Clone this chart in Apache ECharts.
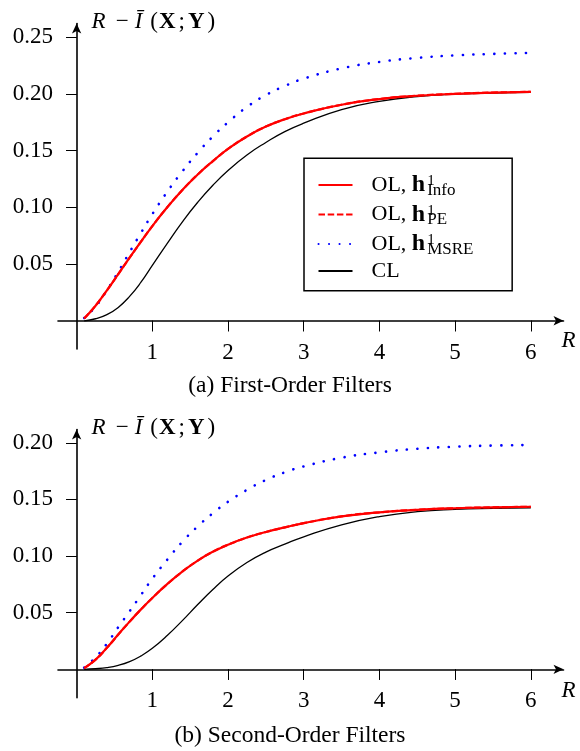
<!DOCTYPE html>
<html><head><meta charset="utf-8">
<script src="https://cdn.jsdelivr.net/npm/echarts@6/dist/echarts.min.js"></script>
<style>html,body{margin:0;padding:0;background:#fff}#c{width:580px;height:751px}</style>
</head><body><div id="c"></div>
<script>
// ---- data ----
const rValues = [0.1, 0.25, 0.4, 0.55, 0.7, 0.85, 1.0, 1.2, 1.4, 1.6, 1.8, 2.0, 2.25, 2.5, 2.75, 3.0, 3.5, 4.0, 4.5, 5.0, 5.5, 6.0];

// (a) First-Order Filters
const firstInfo = [0.002, 0.0133, 0.0268, 0.0412, 0.0556, 0.0697, 0.0835, 0.1003, 0.1155, 0.129, 0.1408, 0.1515, 0.1625, 0.1712, 0.1777, 0.1828, 0.1905, 0.1955, 0.1984, 0.2001, 0.2012, 0.2019];
const firstPE   = [0.002, 0.0133, 0.0268, 0.0412, 0.0556, 0.0697, 0.0835, 0.1003, 0.1155, 0.129, 0.1408, 0.1515, 0.1625, 0.1712, 0.1777, 0.1828, 0.1905, 0.1955, 0.1984, 0.2001, 0.2012, 0.2019];
const firstMSRE = [0.0025, 0.0125, 0.027, 0.0432, 0.0605, 0.0775, 0.094, 0.114, 0.132, 0.1482, 0.1625, 0.175, 0.1885, 0.199, 0.207, 0.2135, 0.2225, 0.2282, 0.2318, 0.234, 0.2353, 0.2362];
const firstCL   = [0.0, 0.0018, 0.0055, 0.0118, 0.0215, 0.034, 0.0488, 0.0685, 0.0875, 0.1045, 0.1195, 0.1325, 0.1462, 0.1572, 0.1668, 0.1742, 0.1862, 0.1935, 0.1977, 0.1998, 0.2008, 0.2013];

// (b) Second-Order Filters
const secondInfo = [0.001, 0.0085, 0.019, 0.0307, 0.0421, 0.0529, 0.063, 0.0754, 0.0864, 0.096, 0.1038, 0.11, 0.1163, 0.1212, 0.1253, 0.129, 0.135, 0.1386, 0.1408, 0.1422, 0.143, 0.1435];
const secondPE   = [0.001, 0.0085, 0.019, 0.0307, 0.0421, 0.0529, 0.063, 0.0754, 0.0864, 0.096, 0.1038, 0.11, 0.1163, 0.1212, 0.1253, 0.129, 0.135, 0.1386, 0.1408, 0.1422, 0.143, 0.1435];
const secondMSRE = [0.0015, 0.0105, 0.0227, 0.0372, 0.0512, 0.0656, 0.08, 0.097, 0.1128, 0.1262, 0.1378, 0.1479, 0.1584, 0.1671, 0.1739, 0.1791, 0.1868, 0.1915, 0.1947, 0.1965, 0.1975, 0.198];
const secondCL   = [0.0, 0.0005, 0.0015, 0.0035, 0.0068, 0.0118, 0.0185, 0.03, 0.0432, 0.0572, 0.0705, 0.0823, 0.0943, 0.1035, 0.1105, 0.117, 0.1275, 0.1348, 0.1392, 0.1412, 0.1421, 0.1426];

const xTickValues = [1, 2, 3, 4, 5, 6];
const yTickValuesFirst = [0.05, 0.10, 0.15, 0.20, 0.25];
const yTickValuesSecond = [0.05, 0.10, 0.15, 0.20];
const seriesNames = ['OL, h1 Info', 'OL, h1 PE', 'OL, h1 MSRE', 'CL'];
const legendLabels = {
  'OL, h1 Info': '{t|OL, }{h|h}{sup|1}{sub|Info}',
  'OL, h1 PE': '{t|OL, }{h|h}{sup|1}{sub|PE}',
  'OL, h1 MSRE': '{t|OL, }{h|h}{sup|1}{sub|MSRE}',
  'CL': '{t|CL}'
};
const captions = ['(a) First-Order Filters', '(b) Second-Order Filters'];
const yAxisTitle = '{i|R}{m|−}{i2|Ī}{p|(}{b|X}{s|;}{b|Y}{q|)}';
const xAxisTitle = 'R';

// ---- chart ----
const FONT = '"Liberation Serif", "DejaVu Serif", serif';
const pairs = (arr) => rValues.map((r, i) => [r, arr[i]]);

const grids = [
  { left: 58, top: 23.5, width: 505.5, height: 325.5, outerBoundsMode: 'none' },
  { left: 58, top: 429.5, width: 505.5, height: 268.2, outerBoundsMode: 'none' }
];
const yRanges = [[-0.02487, 0.2621], [-0.02507, 0.2117]];
const yTicks = [yTickValuesFirst, yTickValuesSecond];

const xAxes = [], yAxes = [];
[0, 1].forEach(g => {
  const base = { type: 'value', gridIndex: g, min: -0.246, max: 6.432, splitLine: { show: false } };
  xAxes.push(Object.assign({}, base, {
    axisLine: { show: true, onZero: true, onZeroAxisIndex: g * 2, symbol: ['none', 'arrow'], symbolSize: [7, 10],
      lineStyle: { color: '#000', width: 1.6 } },
    axisTick: { show: true, customValues: xTickValues, length: 10.5, lineStyle: { color: '#000', width: 1 } },
    axisLabel: { show: true, customValues: xTickValues, margin: -8, fontFamily: FONT, fontSize: 23, color: '#000',
      formatter: v => String(v) }
  }));
  xAxes.push(Object.assign({}, base, {
    axisLine: { show: false, onZero: true, onZeroAxisIndex: g * 2 },
    axisTick: { show: true, inside: true, customValues: xTickValues, length: 10.5, lineStyle: { color: '#000', width: 1 } },
    axisLabel: { show: false }
  }));
  const ybase = { type: 'value', gridIndex: g, min: yRanges[g][0], max: yRanges[g][1], splitLine: { show: false } };
  yAxes.push(Object.assign({}, ybase, {
    axisLine: { show: true, onZero: true, onZeroAxisIndex: g * 2, symbol: ['none', 'arrow'], symbolSize: [7, 10],
      lineStyle: { color: '#000', width: 1.6 } },
    axisTick: { show: true, customValues: yTicks[g], length: 10.5, lineStyle: { color: '#000', width: 1 } },
    axisLabel: { show: true, customValues: yTicks[g], margin: 5, fontFamily: FONT, fontSize: 23, color: '#000',
      formatter: v => v.toFixed(2) },
    name: yAxisTitle, nameLocation: 'end', nameGap: 1.5,
    nameTextStyle: { align: 'left', verticalAlign: 'middle', padding: [0, 0, 0, 15],
      rich: {
        i: { fontFamily: FONT, fontStyle: 'italic', fontSize: 23, color: '#000', padding: [0, 10, 0, 0] },
        i2: { fontFamily: FONT, fontStyle: 'italic', fontSize: 23, color: '#000', padding: [0, 8, 0, 0] },
        m: { fontFamily: FONT, fontSize: 23, color: '#000', padding: [0, 6, 0, 0] },
        p: { fontFamily: FONT, fontSize: 23, color: '#000', padding: [0, 1, 0, 0] },
        s: { fontFamily: FONT, fontSize: 23, color: '#000', padding: [0, 3, 0, 3] },
        q: { fontFamily: FONT, fontSize: 23, color: '#000', padding: [0, 0, 0, 3] },
        b: { fontFamily: FONT, fontWeight: 'bold', fontSize: 23, color: '#000' }
      } }
  }));
  yAxes.push(Object.assign({}, ybase, {
    axisLine: { show: false, onZero: true, onZeroAxisIndex: g * 2 },
    axisTick: { show: true, inside: true, customValues: yTicks[g], length: 10.5, lineStyle: { color: '#000', width: 1 } },
    axisLabel: { show: false }
  }));
});

const styles = {
  'OL, h1 Info': { color: '#ff0000', width: 2.2, type: 'solid' },
  'OL, h1 PE': { color: '#ff0000', width: 2.2, type: [6.5, 2.7] },
  'OL, h1 MSRE': { color: '#0000ff', width: 2.6, type: [0.1, 10.4], cap: 'round' },
  'CL': { color: '#000000', width: 1.3, type: 'solid' }
};
const dataSets = [
  { 'OL, h1 Info': firstInfo, 'OL, h1 PE': firstPE, 'OL, h1 MSRE': firstMSRE, 'CL': firstCL },
  { 'OL, h1 Info': secondInfo, 'OL, h1 PE': secondPE, 'OL, h1 MSRE': secondMSRE, 'CL': secondCL }
];
const drawOrder = ['CL', 'OL, h1 MSRE', 'OL, h1 Info', 'OL, h1 PE'];
const series = [];
[0, 1].forEach(g => {
  drawOrder.forEach(name => {
    series.push({
      type: 'line', name, xAxisIndex: g * 2, yAxisIndex: g * 2,
      data: pairs(dataSets[g][name]), symbol: 'none', showSymbol: false,
      smooth: 0.5, animation: false,
      lineStyle: styles[name], itemStyle: { color: styles[name].color }
    });
  });
});

const chart = echarts.init(document.getElementById('c'), null, { renderer: 'canvas' });
chart.setOption({
  backgroundColor: '#fff',
  animation: false,
  grid: grids,
  xAxis: xAxes,
  yAxis: yAxes,
  legend: {
    data: seriesNames, left: 304, top: 158.3, orient: 'vertical', selectedMode: false,
    itemWidth: 34, itemHeight: 14, itemGap: 2.5,
    itemStyle: { opacity: 0 },
    padding: [13.3, 38.7, 8.6, 13.5], borderColor: '#000', borderWidth: 1.5, borderRadius: 0,
    formatter: n => legendLabels[n],
    textStyle: {
      color: '#000', fontFamily: FONT, fontSize: 22,
      rich: {
        t: { fontFamily: FONT, fontSize: 22, color: '#000', lineHeight: 28, padding: [0, 0, 0, 14] },
        h: { fontFamily: FONT, fontSize: 24, fontWeight: 'bold', color: '#000', lineHeight: 28, padding: [0, 2, 0, 0] },
        sup: { fontFamily: FONT, fontSize: 15, color: '#000', lineHeight: 28, width: 0, padding: [0, 0, 8, 0] },
        sub: { fontFamily: FONT, fontSize: 17, color: '#000', lineHeight: 28, padding: [10, 0, 0, 0] }
      }
    }
  },
  graphic: [
    { type: 'text', x: 290, y: 386, style: { text: captions[0], align: 'center', verticalAlign: 'middle',
      font: '23.5px ' + FONT, fill: '#000' } },
    { type: 'text', x: 290, y: 736, style: { text: captions[1], align: 'center', verticalAlign: 'middle',
      font: '23.5px ' + FONT, fill: '#000' } },
    { type: 'text', x: 568.5, y: 341, style: { text: xAxisTitle, align: 'center', verticalAlign: 'middle',
      font: 'italic 23px ' + FONT, fill: '#000' } },
    { type: 'text', x: 568.5, y: 690.5, style: { text: xAxisTitle, align: 'center', verticalAlign: 'middle',
      font: 'italic 23px ' + FONT, fill: '#000' } }
  ],
  series
});
</script></body></html>
